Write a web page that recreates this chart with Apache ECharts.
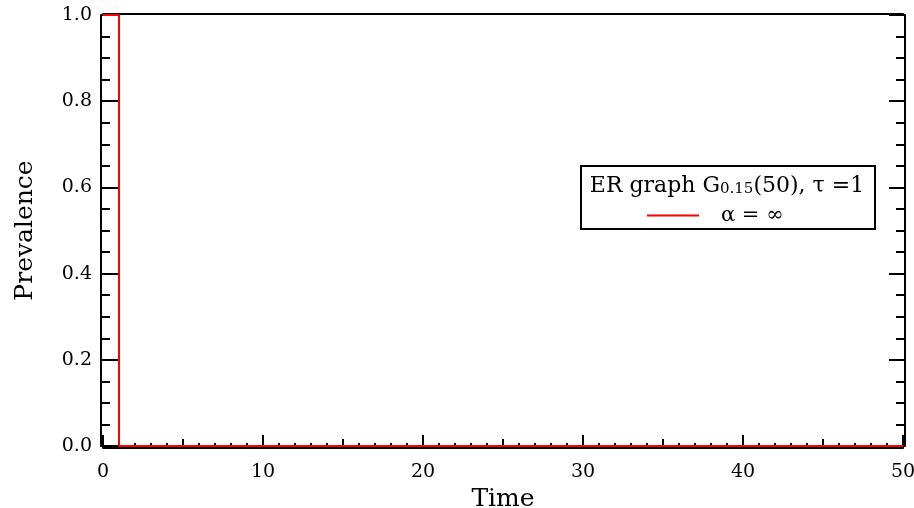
<!DOCTYPE html>
<html>
<head>
<meta charset="utf-8">
<script src="https://cdn.jsdelivr.net/npm/echarts@6/dist/echarts.min.js"></script>
<style>html,body{margin:0;padding:0;background:#fff;}#c{width:914px;height:508px;}</style>
</head>
<body>
<div id="c"></div>
<script>
// Data
const times = [0, 1, 50];
const prevalence = [1, 0, 0];
const seriesName = 'α = ∞';
const legendTitle = '{a|ER graph G}{s|0.15}{a|(50), τ =1}';
const xName = 'Time';
const yName = 'Prevalence';

const FONT = 'DejaVu Serif';
const chart = echarts.init(document.getElementById('c'));
const axisLine = {show: true, onZero: false, lineStyle: {color: '#000', width: 2}};
chart.setOption({
  animation: false,
  backgroundColor: '#fff',
  grid: {left: 103, right: 11, top: 15, bottom: 62, containLabel: false, outerBoundsMode: 'none'},
  xAxis: [
    {type: 'value', position: 'bottom', min: 0, max: 50, interval: 10, offset: 2,
     axisLine: axisLine,
     axisTick: {show: true, inside: true, length: 13, lineStyle: {color: '#000', width: 2}},
     minorTick: {show: true, splitNumber: 10, length: 5, lineStyle: {color: '#000', width: 2}},
     splitLine: {show: false}, minorSplitLine: {show: false},
     axisLabel: {fontFamily: FONT, fontSize: 19, color: '#000', margin: 15},
     name: xName, nameLocation: 'middle', nameGap: 36,
     nameTextStyle: {fontFamily: FONT, fontSize: 25, color: '#000'}},
    {type: 'value', position: 'bottom', min: 0, max: 50, interval: 5, offset: 2,
     axisLine: {show: false, onZero: false},
     axisTick: {show: true, inside: true, length: 9, lineStyle: {color: '#000', width: 2}},
     splitLine: {show: false}, axisLabel: {show: false}},
    {type: 'value', position: 'top', min: 0, max: 50, offset: 1,
     axisLine: axisLine, axisTick: {show: false}, splitLine: {show: false}, axisLabel: {show: false}}
  ],
  yAxis: [
    {type: 'value', position: 'left', min: 0, max: 1, interval: 0.2, offset: 2,
     axisLine: axisLine,
     axisTick: {show: true, inside: true, length: 17, lineStyle: {color: '#000', width: 2}},
     minorTick: {show: true, splitNumber: 4, length: 9, lineStyle: {color: '#000', width: 2}},
     splitLine: {show: false}, minorSplitLine: {show: false},
     axisLabel: {fontFamily: FONT, fontSize: 19, color: '#000', margin: 9,
                 formatter: v => v.toFixed(1)},
     name: yName, nameLocation: 'middle', nameGap: 63, nameRotate: 90,
     nameTextStyle: {fontFamily: FONT, fontSize: 25, color: '#000'}},
    {type: 'value', position: 'right', min: 0, max: 1, interval: 0.2, offset: 2,
     axisLine: axisLine,
     axisTick: {show: true, inside: true, length: 16, lineStyle: {color: '#000', width: 2}},
     minorTick: {show: true, splitNumber: 4, length: 9, lineStyle: {color: '#000', width: 2}},
     splitLine: {show: false}, axisLabel: {show: false}}
  ],
  legend: {
    show: true, left: 642, top: 200, icon: 'rect', itemWidth: 52, itemHeight: 2,
    itemGap: 0, z: 10,
    textStyle: {fontFamily: FONT, fontSize: 21, color: '#000', padding: [0, 0, 0, 17]},
    data: [seriesName]
  },
  graphic: [
    {type: 'rect', z: 5, shape: {x: 581, y: 166, width: 294, height: 63},
     style: {fill: '#fff', stroke: '#000', lineWidth: 2}},
    {type: 'text', z: 6, x: 727, y: 186,
     style: {text: legendTitle, align: 'center', verticalAlign: 'middle',
       rich: {a: {fontFamily: FONT, fontSize: 22, fill: '#000'},
              s: {fontFamily: FONT, fontSize: 15, fill: '#000', verticalAlign: 'bottom', padding: [7, 0, 0, 0]}}}}
  ],
  series: [{
    name: seriesName, type: 'line', xAxisIndex: 0, yAxisIndex: 0,
    data: times.map((t, i) => [t, prevalence[i]]),
    step: 'end', showSymbol: false, symbol: 'none',
    lineStyle: {color: '#ff0000', width: 2}, itemStyle: {color: '#ff0000'}, z: 3
  }]
});
</script>
</body>
</html>
